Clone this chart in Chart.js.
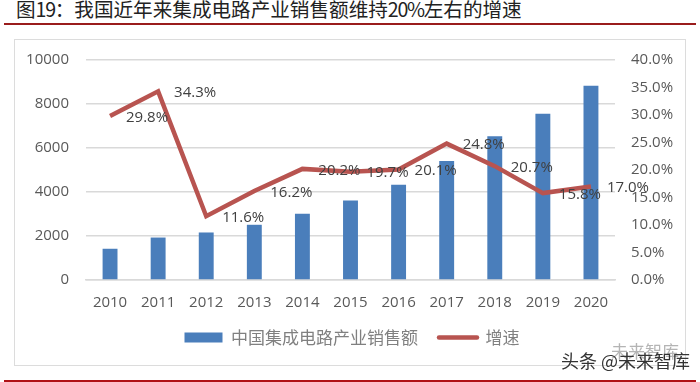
<!DOCTYPE html>
<html lang="zh">
<head>
<meta charset="utf-8">
<script src="https://cdn.jsdelivr.net/npm/chart.js@4"></script>
<style>
html,body{margin:0;padding:0;background:#fff;}
#wrap{position:relative;width:700px;height:382px;overflow:hidden;background:#fff;}
#frame{position:absolute;left:14px;top:39px;width:670px;height:325px;border:1.5px solid #dcdcdc;box-sizing:content-box;}
canvas{position:absolute;left:0;top:0;}
#title{position:absolute;left:16px;top:-4px;font:400 19.6px/26px "Noto Sans CJK SC";color:#222;white-space:nowrap;}
#title span{letter-spacing:-1.3px;}
#rule1{position:absolute;left:4px;top:23px;width:692px;height:2px;background:#9a1c1c;}
#rule2{position:absolute;left:4px;top:380px;width:692px;height:2px;background:#b01116;}
#wm1{position:absolute;left:611px;top:341px;font:17px/20px "Noto Sans CJK SC";color:#b4b4b4;white-space:nowrap;}
#wm2{position:absolute;left:561px;top:349px;font:18px/22px "Noto Sans CJK SC";color:#333;white-space:nowrap;}
</style>
</head>
<body>
<div id="wrap">
  <div id="frame"></div>
  <div id="title">图<span>19</span>：我国近年来集成电路产业销售额维持<span>20%</span>左右的增速</div>
  <div id="rule1"></div>
  <canvas id="c" width="700" height="382"></canvas>
  <div id="rule2"></div>
  <div id="wm1">未来智库</div>
  <div id="wm2">头条 @未来智库</div>
</div>
<script>
const categories = ['2010','2011','2012','2013','2014','2015','2016','2017','2018','2019','2020'];
const salesValues = [1420,1930,2160,2510,3015,3610,4335,5410,6530,7560,8830];
const growthValues = [29.8,34.3,11.6,16.2,20.2,19.7,20.1,24.8,20.7,15.8,17.0];
const salesName = '中国集成电路产业销售额';
const growthName = '增速';

const tickFont = {family:'"Open Sans"', size:15};
const tickColor = '#595959';
const gridColor = '#d9d9d9';

const lineLabels = {
  id:'lineLabels',
  afterDatasetsDraw(chart){
    const ctx = chart.ctx;
    const meta = chart.getDatasetMeta(1);
    ctx.save();
    ctx.font = '15px "Open Sans"';
    ctx.fillStyle = '#404040';
    ctx.textAlign = 'center';
    ctx.textBaseline = 'middle';
    meta.data.forEach((pt,i)=>{
      ctx.fillText(growthValues[i].toFixed(1)+'%', pt.x+37, pt.y+1.5);
    });
    ctx.restore();
  }
};

new Chart(document.getElementById('c'),{
  data:{
    labels:categories,
    datasets:[
      {type:'bar',label:salesName,data:salesValues,yAxisID:'y',order:2,
       backgroundColor:'#4a7ebb',categoryPercentage:1,barPercentage:0.31},
      {type:'line',label:growthName,data:growthValues,yAxisID:'y1',order:1,
       borderColor:'#b85450',backgroundColor:'#b85450',borderWidth:4.5,
       borderJoinStyle:'miter',pointRadius:0,tension:0,fill:false}
    ]
  },
  options:{
    responsive:false,animation:false,
    layout:{padding:{top:60,left:4,right:0,bottom:26}},
    plugins:{
      title:{display:false},
      tooltip:{enabled:false},
      legend:{
        display:true,position:'bottom',
        labels:{
          font:{family:'"Noto Sans CJK SC"',size:17},color:'#808080',
          usePointStyle:true,pointStyleWidth:38,boxHeight:10,padding:21,
          sort:(a,b)=>a.datasetIndex-b.datasetIndex,
          generateLabels(chart){
            return Chart.defaults.plugins.legend.labels.generateLabels(chart).map(it=>{
              const isBar = it.datasetIndex===0;
              it.pointStyle = isBar?'rect':'line';
              it.fillStyle = isBar?'#4a7ebb':'#b85450';
              it.strokeStyle = isBar?'#4a7ebb':'#b85450';
              it.lineWidth = isBar?0:4.5;
              it.lineCap = 'round';
              return it;
            });
          }
        }
      }
    },
    scales:{
      x:{
        grid:{display:false,drawTicks:false},
        border:{display:true,color:gridColor,width:1.5},
        ticks:{font:tickFont,color:tickColor,padding:14,maxRotation:0,autoSkip:false},
        afterFit(s){s.height=28;}
      },
      y:{
        position:'left',min:0,max:10000,
        grid:{color:gridColor,lineWidth:1.5,drawTicks:false},
        border:{display:false},
        ticks:{stepSize:2000,font:tickFont,color:tickColor,padding:17,callback:v=>String(v)},
        afterFit(s){s.width=82;}
      },
      y1:{
        position:'right',min:0,max:40,
        grid:{display:false,drawTicks:false},
        border:{display:false},
        ticks:{stepSize:5,font:tickFont,color:tickColor,padding:16,
               callback:v=>v.toFixed(1)+'%'},
        afterFit(s){s.width=85;}
      }
    }
  },
  plugins:[lineLabels]
});
</script>
</body>
</html>
